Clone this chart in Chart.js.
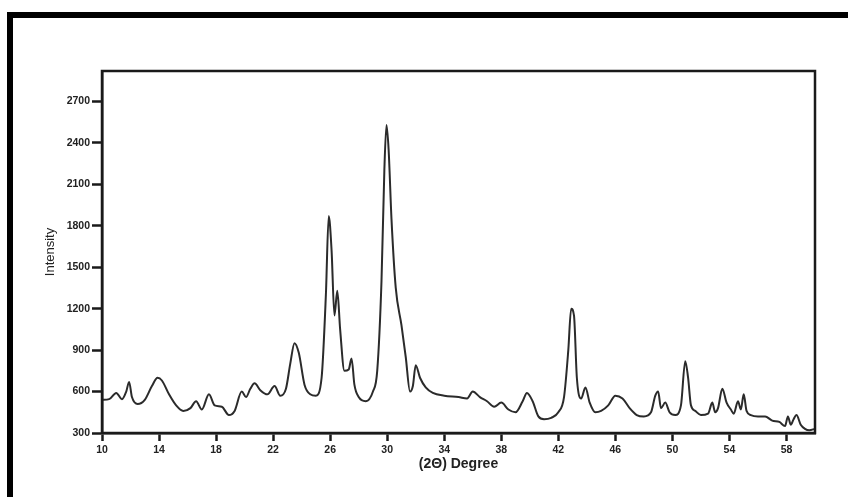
<!DOCTYPE html>
<html>
<head>
<meta charset="utf-8">
<script src="https://cdn.jsdelivr.net/npm/chart.js@4.4.0/dist/chart.umd.min.js"></script>
<style>
  html, body { margin: 0; padding: 0; background: #fff; }
  #wrap { position: relative; width: 848px; height: 497px; overflow: hidden; }
  #frame { position: absolute; left: 7px; top: 12px; width: 900px; height: 600px;
           border-top: 6px solid #000; border-left: 6px solid #000; box-sizing: border-box; }
  canvas { position: absolute; left: 0; top: 0; }
</style>
</head>
<body>
<div id="wrap">
  <div id="frame"></div>
  <canvas id="xrdChart" width="848" height="497"></canvas>
</div>
<script>
// 2-theta positions and intensities
const twoTheta = [
  10, 10.5, 11, 11.4, 11.7, 11.9, 12.1, 12.5, 13, 13.5, 13.9, 14.2, 14.7, 15.2, 15.7,
  16.2, 16.6, 17, 17.5, 17.9, 18.4, 18.9, 19.3, 19.8, 20.1, 20.4, 20.7, 21.1, 21.6, 22.1,
  22.5, 22.9, 23.2, 23.5, 23.8, 24.2, 24.6, 25, 25.4, 25.7, 25.9, 26.1, 26.3, 26.5, 26.7,
  27, 27.3, 27.5, 27.7, 28, 28.5, 29, 29.3, 29.6, 29.8, 29.95, 30.1, 30.3, 30.6, 31,
  31.3, 31.6, 31.8, 32, 32.3, 32.7, 33.2, 34, 35, 35.6, 36, 36.5, 37, 37.5, 38,
  38.5, 39, 39.5, 39.8, 40.2, 40.6, 41, 41.5, 42, 42.4, 42.7, 42.9, 43.1, 43.3, 43.6,
  43.9, 44.2, 44.6, 45, 45.5, 46, 46.5, 47, 47.5, 48, 48.5, 48.8, 49, 49.2, 49.5,
  49.8, 50.2, 50.6, 50.9, 51.1, 51.3, 51.6, 52, 52.5, 52.8, 53, 53.2, 53.5, 53.8, 54.1,
  54.3, 54.6, 54.8, 55, 55.2, 55.5, 56, 56.5, 57, 57.5, 57.9, 58.1, 58.3, 58.5, 58.7,
  59, 59.3, 59.6, 60
];
const intensity = [
  540, 545, 590, 545, 600, 670, 560, 510, 540, 640, 700, 680, 580, 500, 460,
  480, 530, 470, 580, 500, 490, 430, 460, 600, 560, 620, 660, 610, 580, 640,
  570, 620, 800, 950, 880, 650, 580, 570, 700, 1300, 1870, 1620, 1150, 1330, 1050,
  750, 760, 840, 650, 560, 530, 600, 750, 1400, 2200, 2530, 2350, 1850, 1350, 1080,
  850, 600, 640, 790, 700, 630, 590, 570, 560, 550, 600, 560, 530, 490, 520,
  470, 450, 530, 590, 530, 420, 400, 410, 450, 560, 900, 1200, 1150, 700, 550,
  630, 520, 450, 460, 500, 570, 550, 480, 430, 420, 450, 570, 600, 480, 520,
  450, 430, 500, 820, 700, 500, 460, 430, 440, 520, 450, 480, 620, 520, 470,
  440, 530, 470, 580, 460, 430, 420, 420, 390, 380, 350, 420, 360, 400, 430,
  360, 330, 320, 330
];
const xTicks = [10, 14, 18, 22, 26, 30, 34, 38, 42, 46, 50, 54, 58];
const yTicks = [300, 600, 900, 1200, 1500, 1800, 2100, 2400, 2700];

const points = twoTheta.map((t, i) => ({ x: t, y: intensity[i] }));

// box around the plot area
const plotBox = {
  id: 'plotBox',
  afterDraw(chart) {
    const { ctx, chartArea: a } = chart;
    ctx.save();
    ctx.strokeStyle = '#1a1a1a';
    ctx.lineWidth = 2.5;
    ctx.strokeRect(a.left, a.top, a.right - a.left, a.bottom - a.top);
    ctx.restore();
  }
};

const ctx = document.getElementById('xrdChart').getContext('2d');
const xrdChart = new Chart(ctx, {
  type: 'line',
  data: {
    datasets: [{
      data: points,
      borderColor: '#2b2b2b',
      borderWidth: 2,
      pointRadius: 0,
      fill: false,
      cubicInterpolationMode: 'monotone'
    }]
  },
  options: {
    responsive: false,
    animation: false,
    layout: { padding: { left: 0, right: 33, top: 71, bottom: 24 } },
    plugins: { legend: { display: false }, tooltip: { enabled: false } },
    scales: {
      x: {
        type: 'linear',
        min: 10,
        max: 60,
        afterBuildTicks: s => { s.ticks = xTicks.map(v => ({ value: v })); },
        afterFit: s => { s.height = 40; },
        border: { color: '#1a1a1a', width: 2.5 },
        grid: { drawOnChartArea: false, tickLength: 8, tickWidth: 2.5, tickColor: '#1a1a1a' },
        ticks: {
          color: '#222',
          padding: 3,
          maxRotation: 0,
          callback: v => String(v),
          font: { family: 'Liberation Sans, Arial', size: 10.5, weight: 'bold' }
        },
        title: {
          display: true,
          text: '(2Θ) Degree',
          color: '#222',
          padding: { top: 0, bottom: 0 },
          font: { family: 'Liberation Sans, Arial', size: 14, weight: 'bold' }
        }
      },
      y: {
        min: 300,
        max: 2920,
        afterBuildTicks: s => { s.ticks = yTicks.map(v => ({ value: v })); },
        afterFit: s => { s.width = 102; },
        border: { color: '#1a1a1a', width: 2.5 },
        grid: { drawOnChartArea: false, tickLength: 10, tickWidth: 2.5, tickColor: '#1a1a1a' },
        ticks: {
          color: '#222',
          padding: 2,
          callback: v => String(v),
          font: { family: 'Liberation Sans, Arial', size: 10.5, weight: 'bold' }
        },
        title: {
          display: true,
          text: 'Intensity',
          color: '#222',
          padding: { top: 43, bottom: 0 },
          font: { family: 'Liberation Sans, Arial', size: 13 }
        }
      }
    }
  },
  plugins: [plotBox]
});
</script>
</body>
</html>
